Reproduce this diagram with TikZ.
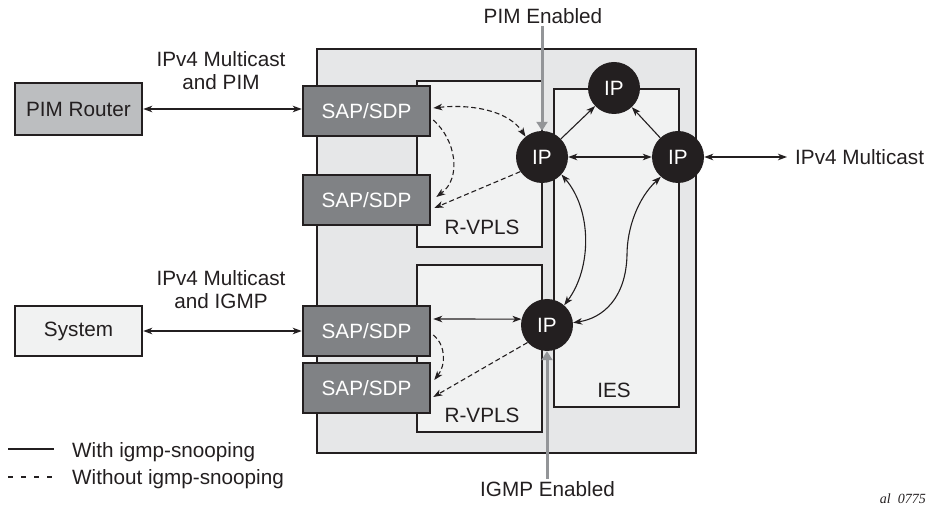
\documentclass[tikz,border=0pt]{standalone}
\usepackage{fontspec}
\setmainfont{Liberation Sans}
\newfontfamily\serifit{Liberation Serif}
\usetikzlibrary{arrows.meta,calc}
\definecolor{ink}{HTML}{231F20}
\definecolor{outerfill}{HTML}{E6E7E8}
\definecolor{innerfill}{HTML}{F1F2F2}
\definecolor{sapfill}{HTML}{808285}
\definecolor{pimfill}{HTML}{BCBEC0}
\definecolor{arrowgray}{HTML}{939598}
\begin{document}
\begin{tikzpicture}[x=1pt,y=-1pt,
  every node/.style={font=\fontsize{20.7}{23.5}\selectfont, text=ink, inner sep=0pt},
  box/.style={draw=ink,line width=2.5pt},
  sapbox/.style={box,fill=sapfill,text=white,minimum width=127pt,minimum height=50pt},
  ipnode/.style={circle,fill=ink,text=white,minimum size=52pt},
  >={Stealth[length=9pt,width=6.5pt,inset=2.5pt]},
  conn/.style={draw=ink,line width=1.1pt},
  dconn/.style={draw=ink,line width=1.1pt,dash pattern=on 5pt off 3pt},
  garrow/.style={draw=arrowgray,line width=3pt,-{Triangle[length=9pt,width=11pt]}}
]
\useasboundingbox (0,0) rectangle (929,510);

% containers
\node[box,fill=outerfill,minimum width=379pt,minimum height=404pt] (outer) at (506.5,251) {};
\node[box,fill=innerfill,minimum width=125pt,minimum height=166pt] (rv1) at (479.5,164) {};
\node[box,fill=innerfill,minimum width=125pt,minimum height=167pt] (rv2) at (479.5,348.5) {};
\node[box,fill=innerfill,minimum width=125pt,minimum height=318pt] (ies) at (616.5,248) {};

\node[anchor=base] (rv1lbl) at (482,235) {R-VPLS};
\node[anchor=base] (rv2lbl) at (482,423) {R-VPLS};
\node[anchor=base] (ieslbl) at (614,398) {IES};

% SAP/SDP
\node[sapbox] (sap1) at (366.5,111) {SAP/SDP};
\node[sapbox] (sap2) at (366.5,200) {SAP/SDP};
\node[sapbox] (sap3) at (366.5,331) {SAP/SDP};
\node[sapbox] (sap4) at (366.5,388) {SAP/SDP};

% external boxes
\node[box,fill=pimfill,minimum width=127pt,minimum height=52pt] (pim) at (78.5,109) {PIM Router};
\node[box,fill=innerfill,minimum width=127pt,minimum height=50pt] (sys) at (78.5,331) {System};

% IP nodes
\node[ipnode] (ipul) at (542,157) {IP};
\node[ipnode] (iptop) at (614,88) {IP};
\node[ipnode] (ipright) at (678,157) {IP};
\node[ipnode] (iplow) at (547,325) {IP};

% labels
\node[align=center,anchor=north] (lblpim) at (221,51) {IPv4 Multicast\\and PIM};
\node[align=center,anchor=north] (lbligmp) at (221,270) {IPv4 Multicast\\and IGMP};
\node[anchor=west] (mc) at (795,157) {IPv4 Multicast};
\node[anchor=base,inner sep=2pt] (pimen) at (543,24) {PIM Enabled};
\node[anchor=base,inner sep=2pt] (igmpen) at (547.5,496) {IGMP Enabled};

% external connectors
\draw[conn,<->] (pim.east) -- (pim.east -| sap1.west);
\draw[conn,<->] (sys.east) -- (sys.east -| sap3.west);
\draw[conn,<->] (ipright.east) -- ([xshift=-8pt]mc.west);

% upper R-VPLS
\draw[dconn,<->] ([xshift=2pt,yshift=3pt]sap1.east) .. controls (470,104) and (508,110) .. (ipul.129);
\draw[dconn,->] ([xshift=2pt,yshift=-9pt]sap1.east) .. controls (456,140) and (462,178) .. ([xshift=5pt,yshift=3pt]sap2.east);
\draw[dconn,->] (ipul.214) -- ([xshift=3pt,yshift=-8pt]sap2.east);

% lower R-VPLS
\draw[conn,<->] ([xshift=2pt,yshift=12pt]sap3.east) -- (iplow.167);
\draw[dconn,->] ([xshift=2pt,yshift=-4pt]sap3.east) .. controls (446,345) and (446,365) .. ([xshift=3pt,yshift=8pt]sap4.east);
\draw[dconn,->] (iplow.222) -- ([xshift=2pt,yshift=-9pt]sap4.east);

% IES connectors
\draw[conn,->] (ipul) -- (iptop);
\draw[conn,->] (ipright) -- (iptop);
\draw[conn,<->] (ipul.east) -- (ipright.west);
\draw[conn,<->] (ipul.-42) .. controls (592,210) and (592,268) .. (iplow.49);
\draw[conn,<->] (ipright.229) .. controls (638,198) and (627,228) .. (627,255) .. controls (626,298) and (603,318) .. (iplow.5);

% gray arrows
\draw[garrow] (pimen.south -| ipul.north) -- (ipul.north);
\draw[garrow] (igmpen.north -| iplow.south) -- (iplow.south);

% legend
\coordinate (l1a) at (8,449);
\coordinate (l1b) at (54,449);
\coordinate (l2a) at (8,477);
\coordinate (l2b) at (54,477);
\draw[conn] (l1a) -- (l1b);
\draw[conn,dash pattern=on 5pt off 8pt] (l2a) -- (l2b);
\node[anchor=base west] (leg1) at (72,457) {With igmp-snooping};
\node[anchor=base west] (leg2) at (72,484) {Without igmp-snooping};

\node[anchor=base east,font=\serifit\itshape\fontsize{14}{16}\selectfont] (fig) at (926,503) {al\ \ 0775};
\end{tikzpicture}
\end{document}
